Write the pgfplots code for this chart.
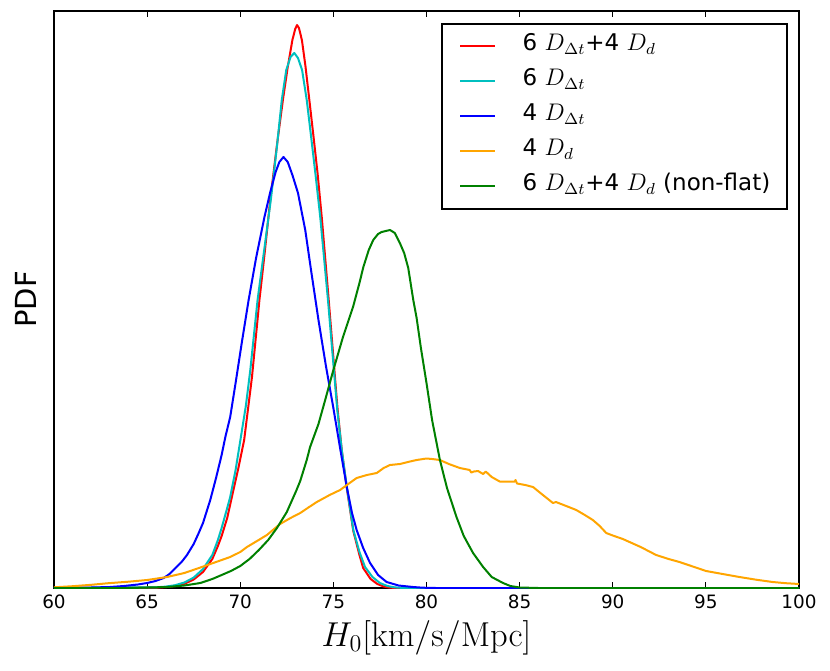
\documentclass[border=0pt]{standalone}
\usepackage[no-math]{fontspec}
\setmainfont{DejaVu Sans}
\usepackage{pgfplots}
\pgfplotsset{compat=1.18}
\definecolor{mplc}{rgb}{0,0.75,0.75}
\definecolor{mplg}{rgb}{0,0.5,0}
\definecolor{mplo}{rgb}{1,0.647,0}
\begin{document}
\begin{tikzpicture}
\useasboundingbox (0,0) rectangle (415pt,335pt);
\begin{axis}[
  at={(27pt,41pt)}, anchor=south west,
  width=372.5pt, height=288.5pt, scale only axis,
  xmin=60, xmax=100, ymin=0, ymax=577,
  xtick={60,65,...,100}, ytick=\empty,
  tick align=inside, tick pos=both,
  major tick length=3pt,
  every tick/.style={black, line width=0.6pt},
  axis line style={line width=1pt},
  tick label style={font=\fontsize{9.2}{11}\selectfont},
  /pgf/number format/assume math mode=true,
  xlabel={$H_0[\mathrm{km/s/Mpc}]$},
  xlabel style={font=\fontsize{16.4}{18}\selectfont, at={(axis description cs:0.5,-0.0867)}, anchor=center},
  ylabel={PDF},
  ylabel style={font=\fontsize{14.5}{16}\selectfont, at={(axis description cs:-0.0376,0.5)}, anchor=center},
  legend cell align=left,
  legend image code/.code={\draw[#1] (0pt,0pt) -- (17.5pt,0pt);},
  legend style={at={(rel axis cs:1,1)}, xshift=-5.5pt, yshift=-6pt, anchor=north east,
    draw=black, line width=1pt, inner xsep=8.35pt, inner ysep=2.5pt,
    font=\fontsize{11.5}{14}\selectfont, row sep=0pt,
    nodes={inner sep=0pt, text height=11pt, text depth=6.5pt},
    /tikz/every odd column/.append style={column sep=13.3pt}},
  every axis plot/.append style={line width=1pt, line join=round},
]
\addplot[red] coordinates {
(60,0)(65.5,0.4)(66.0,0.9)(66.5,2)(67.0,4.2)(67.5,8.5)(68.0,16)(68.5,29)(68.8,42)(69.0,52)(69.3,70)(69.55,91)(69.9,120)(70.21,148)(70.63,211)(71.03,288)(71.3,333)(71.61,388)(71.95,440)(72.29,488)(72.55,521)(72.8,548)(72.95,559)(73.05,563)(73.15,560)(73.31,548)(73.5,522)(73.71,488)(73.93,452)(74.15,415)(74.38,370)(74.75,288)(75.22,180)(75.45,138)(75.72,100)(76.07,57)(76.4,33)(76.6,20)(77.0,9)(77.36,4)(77.7,1.5)(78.0,0.4)(78.4,0)(100,0)
};
\addlegendentry{6 $D_{\Delta t}$+4 $D_d$}
\addplot[mplc] coordinates {
(60,0)(65.5,0.7)(66.0,1.4)(66.5,2.8)(67.0,5.5)(67.5,10.4)(68.0,19)(68.5,33)(68.8,48)(69.0,60)(69.3,80)(69.46,91)(69.75,118)(70.0,147)(70.3,182)(70.54,218)(70.93,288)(71.3,340)(71.64,388)(71.95,438)(72.23,488)(72.47,518)(72.7,531)(72.9,535)(73.1,530)(73.32,518)(73.57,488)(73.8,452)(74.05,412)(74.3,370)(74.71,288)(75.21,178)(75.45,138)(75.72,101)(76.07,58)(76.4,36)(76.7,21)(77.1,11)(77.5,5)(77.9,2)(78.3,0.6)(78.8,0)(100,0)
};
\addlegendentry{6 $D_{\Delta t}$}
\addplot[blue] coordinates {
(60,0)(61.0,0.2)(62.0,0.5)(63.0,1)(63.75,2)(64.5,3.5)(65.0,5)(65.45,7)(65.89,10)(66.2,14)(66.52,20)(66.85,26)(67.14,33)(67.5,44)(67.77,55)(68.0,65)(68.39,88)(68.7,110)(69.0,133)(69.2,151)(69.46,171)(69.75,205)(70.08,245)(70.45,288)(70.85,330)(71.3,371)(71.6,395)(71.9,416)(72.1,426)(72.32,431)(72.55,426)(72.8,413)(73.1,395)(73.49,358)(73.8,318)(74.2,268)(74.6,222)(75.0,180)(75.36,140)(75.72,101)(76.0,75)(76.25,58)(76.6,40)(76.97,25)(77.4,13)(77.86,6)(78.5,2.5)(79.27,1)(79.8,0.3)(80.5,0)(100,0)
};
\addlegendentry{4 $D_{\Delta t}$}
\addplot[mplo] coordinates {
(60.0,0.7)(61.0,1.8)(62.0,3.2)(62.86,4.7)(64.0,6.3)(65.0,8)(66.07,11)(67.0,15)(67.86,20.5)(68.7,26)(69.46,31)(70.0,36)(70.36,41)(70.9,47)(71.43,53)(72.14,64)(72.7,70)(73.22,75)(73.7,81)(74.11,86)(74.8,93)(75.36,98)(75.8,104)(76.25,110)(76.8,113)(77.33,115)(77.7,120)(78.04,123)(78.57,124)(79.0,126)(79.47,128)(80.0,129.5)(80.3,129)(80.72,128)(81.2,124)(81.79,120)(82.32,118)(82.4,115.5)(82.55,116.5)(82.77,117)(83.04,114)(83.18,116.5)(83.5,111)(83.93,106.5)(84.74,106.5)(84.78,108)(84.86,104.5)(85.3,103)(85.72,101)(86.25,93)(86.79,85)(86.95,86)(87.5,82)(88.04,78)(88.5,73)(88.93,68)(89.3,62)(89.65,55)(90.0,52.5)(90.54,49)(91.5,41)(92.33,33)(93.0,29)(93.58,26)(94.3,21.5)(95.01,17)(95.9,14)(96.8,11)(97.7,8.3)(98.58,6)(99.3,4.8)(100,4)
};
\addlegendentry{4 $D_d$}
\addplot[mplg] coordinates {
(60,0)(64.0,0)(66.07,1)(67.0,2.5)(67.86,5)(68.5,9)(69.0,13)(69.5,17)(70.0,22)(70.5,29)(71.0,38)(71.5,48)(71.97,60)(72.5,76)(73.0,97)(73.22,107)(73.57,128)(73.75,141)(74.2,164)(74.56,188)(75.0,218)(75.5,250)(76.07,282)(76.4,305)(76.61,321)(76.9,338)(77.14,348)(77.4,354)(77.59,356)(78.04,358)(78.3,355)(78.57,345)(78.8,335)(79.02,320)(79.29,288)(79.47,270)(79.7,240)(80.0,205)(80.3,168)(80.72,128)(81.1,100)(81.61,71)(82.0,52)(82.5,35)(83.04,21)(83.5,11)(84.11,5)(84.5,2)(85.0,0.5)(86,0)(100,0)
};
\addlegendentry{6 $D_{\Delta t}$+4 $D_d$ (non-flat)}
\end{axis}
\end{tikzpicture}
\end{document}
